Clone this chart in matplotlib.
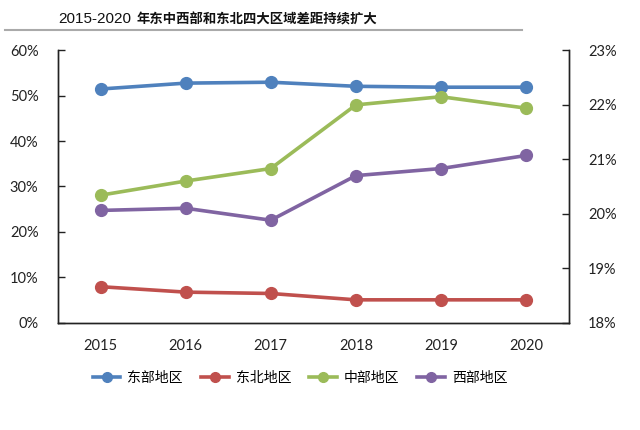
import matplotlib
matplotlib.use('Agg')
import matplotlib.pyplot as plt
from matplotlib.lines import Line2D
from matplotlib.ticker import FuncFormatter

plt.rcParams['font.family'] = ['Lato', 'Noto Sans CJK SC', 'DejaVu Sans']

years = ['2015', '2016', '2017', '2018', '2019', '2020']
# left axis (%)
east = [51.5, 52.8, 53.0, 52.1, 51.9, 51.9]
northeast = [7.9, 6.7, 6.4, 5.0, 5.0, 5.0]
# right axis (%)
central = [20.34, 20.60, 20.83, 22.00, 22.15, 21.94]
west = [20.06, 20.10, 19.88, 20.70, 20.83, 21.07]

names = ['东部地区', '东北地区', '中部地区', '西部地区']
colors = ['#4F81BD', '#C0504D', '#9BBB59', '#8064A2']

fig = plt.figure(figsize=(6.4, 4.3), dpi=100)
ax = fig.add_axes([0.0906, 0.25, 0.798, 0.6326])
ax2 = ax.twinx()

x = range(len(years))
style = dict(lw=2.6, marker='o', ms=8.5, solid_capstyle='round')
ax.plot(x, east, color=colors[0], **style)
ax.plot(x, northeast, color=colors[1], **style)
ax2.plot(x, central, color=colors[2], **style)
ax2.plot(x, west, color=colors[3], **style)

ax.set_xlim(-0.5, len(years) - 0.5)
ax.set_ylim(0, 60)
ax2.set_ylim(18, 23)
ax.set_yticks(range(0, 61, 10))
ax2.set_yticks(range(18, 24))
pct = FuncFormatter(lambda v, p: '%d%%' % v)
ax.yaxis.set_major_formatter(pct)
ax2.yaxis.set_major_formatter(pct)
ax.set_xticks(list(x))
ax.set_xticklabels(years)

for a in (ax, ax2):
    a.spines['top'].set_visible(False)
    for s in a.spines.values():
        s.set_linewidth(1.0)
        s.set_color('#222222')
    a.tick_params(axis='y', direction='in', length=5, width=1, labelsize=10.5,
                  colors='#222222', pad=14)
ax.tick_params(axis='x', length=0, labelsize=10.5, pad=12, colors='#222222')

handles = [Line2D([], [], color=c, lw=2.6, marker='o', ms=7) for c in colors]
fig.legend(handles, names, loc='center', bbox_to_anchor=(0.469, 0.121), ncol=4,
           frameon=False, handlelength=2.0, handletextpad=0.5, columnspacing=1.3,
           prop={'family': ['Noto Sans CJK SC', 'DejaVu Sans'], 'size': 10})

# title: digits regular, chinese bold
t1 = fig.text(0.091, 0.955, '2015-2020', fontsize=11, va='center', ha='left',
              family=['Liberation Sans', 'DejaVu Sans'], color='#111111')
fig.canvas.draw()
bb = t1.get_window_extent()
x1 = (bb.x1 + 5) / fig.bbox.width
fig.text(x1, 0.955, '年东中西部和东北四大区域差距持续扩大',
         fontsize=9.6, fontweight='bold', va='center', ha='left',
         family=['Noto Sans CJK SC', 'DejaVu Sans'], color='#111111')
fig.add_artist(Line2D([0.008, 0.815], [0.93, 0.93], color='#aaaaaa', lw=1.5,
                      transform=fig.transFigure))

fig.savefig('out.png', dpi=100)
